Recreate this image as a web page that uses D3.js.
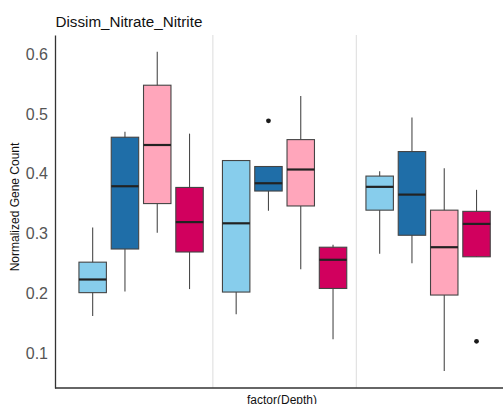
<!DOCTYPE html>
<html>
<head>
<meta charset="utf-8">
<script src="https://cdn.jsdelivr.net/npm/d3@7"></script>
<style>
  body { margin: 0; background: #fff; }
  svg { display: block; font-family: "Liberation Sans", Arial, sans-serif; }
</style>
</head>
<body>
<div id="chart"></div>
<script>
var WIDTH = 503;
var HEIGHT = 404;

// depth levels on the x axis (labels are not drawn in the reference)
var depths = [1, 2, 3];
var seriesNames = ["A", "B", "C", "D"];
var seriesColors = ["#87cdec", "#1f6ea8", "#ffa6bb", "#d1005e"];

// per series: [lower whisker, q1, median, q3, upper whisker] for each depth
var statsA = [[0.162, 0.201, 0.223, 0.252, 0.310], [0.165, 0.202, 0.317, 0.422, 0.423], [0.266, 0.339, 0.378, 0.396, 0.404]];
var statsB = [[0.203, 0.274, 0.379, 0.461, 0.470], [0.338, 0.371, 0.384, 0.412, 0.412], [0.250, 0.297, 0.365, 0.437, 0.494]];
var statsC = [[0.301, 0.350, 0.448, 0.548, 0.604], [0.240, 0.346, 0.407, 0.457, 0.530], [0.070, 0.197, 0.277, 0.339, 0.409]];
var statsD = [[0.207, 0.269, 0.319, 0.377, 0.467], [0.123, 0.208, 0.256, 0.277, 0.281], [0.261, 0.261, 0.316, 0.337, 0.373]];
var allStats = [statsA, statsB, statsC, statsD];

// outliers: [depth, series index, value]
var outliers = [[2, 1, 0.4885], [3, 3, 0.1196]];

var yTicks = [0.1, 0.2, 0.3, 0.4, 0.5, 0.6];

var svg = d3.select('#chart').append('svg').attr('width', WIDTH).attr('height', HEIGHT);

var x = d3.scaleLinear().domain([0.4, 3.6]).range([55, 514.2]);
var y = d3.scaleLinear().domain([0.0415, 0.632]).range([388, 35]);
var dodge = d3.scaleBand().domain(d3.range(seriesNames.length)).range([-0.45, 0.45]);
var boxW = (x(dodge.bandwidth()) - x(0)) * 0.85;

// light vertical separators between depths
svg.selectAll('line.sep')
  .data([1.5, 2.5])
  .enter()
  .append('line')
  .attr('x1', function (d) { return x(d); })
  .attr('x2', function (d) { return x(d); })
  .attr('y1', y.range()[1])
  .attr('y2', y.range()[0])
  .attr('stroke', '#e2e2e2')
  .attr('stroke-width', 1.2);

function cx(depth, s) {
  return x(depth + dodge(s) + dodge.bandwidth() / 2);
}

var boxes = [];
allStats.forEach(function (stats, s) {
  stats.forEach(function (st, i) {
    boxes.push({ depth: depths[i], s: s, st: st });
  });
});

var g = svg.selectAll('g.box').data(boxes).enter().append('g');

// whiskers
g.append('line')
  .attr('x1', function (d) { return cx(d.depth, d.s); })
  .attr('x2', function (d) { return cx(d.depth, d.s); })
  .attr('y1', function (d) { return y(d.st[0]); })
  .attr('y2', function (d) { return y(d.st[4]); })
  .attr('stroke', '#4a4a4a')
  .attr('stroke-width', 1.1);

g.append('rect')
  .attr('x', function (d) { return cx(d.depth, d.s) - boxW / 2; })
  .attr('width', boxW)
  .attr('y', function (d) { return y(d.st[3]); })
  .attr('height', function (d) { return y(d.st[1]) - y(d.st[3]); })
  .attr('fill', function (d) { return seriesColors[d.s]; })
  .attr('stroke', '#444')
  .attr('stroke-width', 1.1);

// medians
g.append('line')
  .attr('x1', function (d) { return cx(d.depth, d.s) - boxW / 2; })
  .attr('x2', function (d) { return cx(d.depth, d.s) + boxW / 2; })
  .attr('y1', function (d) { return y(d.st[2]); })
  .attr('y2', function (d) { return y(d.st[2]); })
  .attr('stroke', '#222')
  .attr('stroke-width', 2.2);

svg.selectAll('circle.out')
  .data(outliers)
  .enter()
  .append('circle')
  .attr('cx', function (d) { return cx(d[0], d[1]); })
  .attr('cy', function (d) { return y(d[2]); })
  .attr('r', 2.4)
  .attr('fill', '#1a1a1a');

// axes
var yAxis = d3.axisLeft(y).tickValues(yTicks).tickSize(0).tickPadding(7).tickFormat(d3.format('.1f'));
var ya = svg.append('g').attr('transform', 'translate(55,0)').call(yAxis);
ya.select('.domain').attr('stroke', '#333').attr('stroke-width', 1.3);
ya.selectAll('text').attr('font-size', 16).attr('fill', '#555').attr('font-family', 'Liberation Sans, Arial, sans-serif');

svg.append('line')
  .attr('x1', 55).attr('x2', WIDTH)
  .attr('y1', 388).attr('y2', 388)
  .attr('stroke', '#333')
  .attr('stroke-width', 1.3);

// titles
svg.append('text')
  .attr('x', 55.5).attr('y', 26.5)
  .attr('font-size', 15.2)
  .attr('fill', '#111')
  .text('Dissim_Nitrate_Nitrite');

svg.append('text')
  .attr('transform', 'translate(19,207) rotate(-90)')
  .attr('text-anchor', 'middle')
  .attr('font-size', 12)
  .attr('fill', '#111')
  .text('Normalized Gene Count');

svg.append('text')
  .attr('x', 282).attr('y', 403.5)
  .attr('text-anchor', 'middle')
  .attr('font-size', 12)
  .attr('fill', '#111')
  .text('factor(Depth)');
</script>
</body>
</html>
